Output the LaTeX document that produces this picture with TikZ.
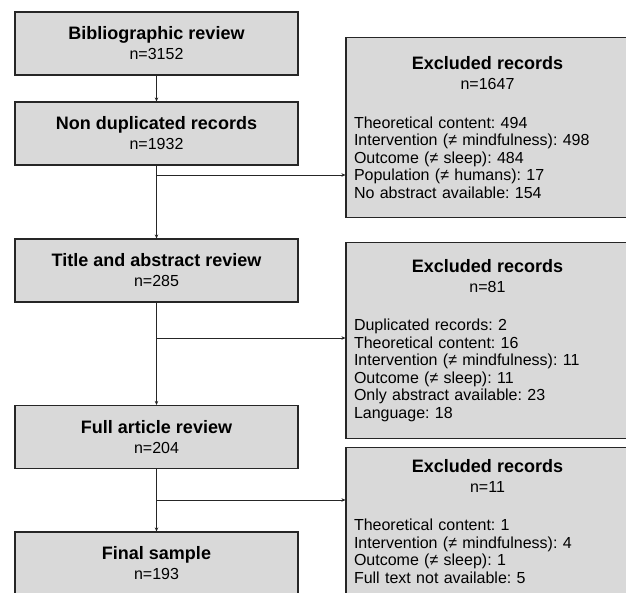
\documentclass[tikz,border=0pt]{standalone}
\usepackage{fontspec}
\setmainfont{Liberation Sans}
\usetikzlibrary{arrows.meta}
\frenchspacing
\definecolor{boxgrey}{RGB}{217,217,217}
\definecolor{edge}{RGB}{38,38,38}
\newcommand{\hd}[1]{{\fontsize{18}{20}\selectfont\bfseries #1}}
\newcommand{\ctr}[1]{\makebox[267pt]{#1}}

\begin{document}
\begin{tikzpicture}[x=1pt,y=-1pt]
    \tikzset{%
      stage/.style={draw=edge, line width=1.1pt, fill=boxgrey, inner sep=0pt,
        minimum width=283pt, minimum height=63pt, align=center,
        font=\fontsize{16}{17.5}\selectfont},
      excl/.style={draw=edge, line width=1.1pt, fill=boxgrey, anchor=north,
        minimum width=283pt, inner xsep=8pt, inner ysep=0pt, text width=267pt,
        align=left, font=\fontsize{16}{17.5}\selectfont},
      flow/.style={draw=edge, line width=0.8pt, -{Stealth[length=4pt,width=3.5pt]}},
    }
    \useasboundingbox (0,0) rectangle (626,593);
    \clip (0,0) rectangle (626,593);

    \node[stage] (bib) at (156.5,43.5) {\hd{Bibliographic review}\\[2.5pt] n=3152};
    \node[stage] (nondup) at (156.5,133.5) {\hd{Non duplicated records}\\[2.5pt] n=1932};
    \node[stage] (title) at (156.5,270.5) {\hd{Title and abstract review}\\[2.5pt] n=285};
    \node[stage] (full) at (156.5,437) {\hd{Full article review}\\[2.5pt] n=204};
    \node[stage] (final) at (156.5,563.5) {\hd{Final sample}\\[2.5pt] n=193};

    \node[excl, minimum height=180pt] (exA) at (487.5,37) {%
      \ctr{\hd{Excluded records}}\\[2.5pt] \ctr{n=1647}\\[21pt]
      Theoretical content: 494\\
      Intervention (≠ mindfulness): 498\\
      Outcome (≠ sleep): 484\\
      Population (≠ humans): 17\\
      No abstract available: 154};
    \node[excl, minimum height=196pt] (exB) at (487.5,242) {%
      \ctr{\hd{Excluded records}}\\[2.5pt] \ctr{n=81}\\[20.5pt]
      Duplicated records: 2\\
      Theoretical content: 16\\
      Intervention (≠ mindfulness): 11\\
      Outcome (≠ sleep): 11\\
      Only abstract available: 23\\
      Language: 18};
    \node[excl, minimum height=148pt] (exC) at (487.5,447) {%
      \ctr{\hd{Excluded records}}\\[2.5pt] \ctr{n=11}\\[20.5pt]
      Theoretical content: 1\\
      Intervention (≠ mindfulness): 4\\
      Outcome (≠ sleep): 1\\
      Full text not available: 5};

    \draw[flow] (bib) -- (nondup);
    \draw[flow] (nondup) -- (title);
    \draw[flow] (title) -- (full);
    \draw[flow] (full) -- (final);

    \coordinate (jA) at (156.5,175);
    \coordinate (jB) at (156.5,338);
    \coordinate (jC) at (156.5,500);
    \draw[flow] (jA) -- (jA -| exA.west);
    \draw[flow] (jB) -- (jB -| exB.west);
    \draw[flow] (jC) -- (jC -| exC.west);
  \end{tikzpicture}
\end{document}
